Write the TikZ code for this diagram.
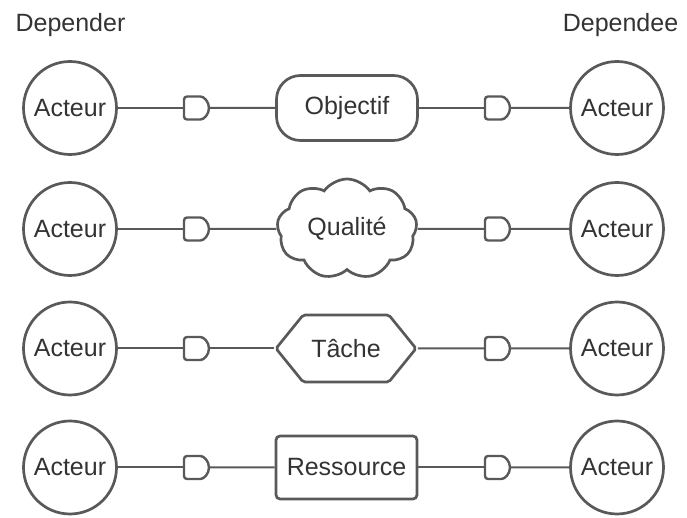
\documentclass[tikz,border=0pt]{standalone}
\usepackage{fontspec}
\setmainfont{Liberation Sans}
\usetikzlibrary{shapes.misc,shapes.symbols}
\definecolor{linegray}{RGB}{89,89,89}
\definecolor{textgray}{RGB}{51,51,51}
\tikzset{
  actor/.style={draw=linegray, circle, line width=2.7pt, minimum size=93pt, inner sep=0pt, text=textgray},
  dep/.style={draw=linegray, rounded rectangle, rounded rectangle west arc=none, rounded corners=3pt, line width=2.4pt, minimum width=25pt, minimum height=23pt, inner sep=0pt},
  link/.style={draw=linegray, line width=2pt},
  elem/.style={draw=linegray, line width=2.7pt, minimum width=141pt, minimum height=65pt, inner sep=0pt, text=textgray}
}
\begin{document}
\begin{tikzpicture}[x=1pt, y=1pt, font=\fontsize{25}{30}\selectfont]
\useasboundingbox (0,0) rectangle (687,518);

\node[text=textgray, anchor=base] (depender) at (70.5,486) {Depender};
\node[text=textgray, anchor=base] (dependee) at (620.5,486) {Dependee};

\node[actor] (actL1) at (70,410) {Acteur};
\node[actor] (actL2) at (70,289) {Acteur};
\node[actor] (actL3) at (70,169.5) {Acteur};
\node[actor] (actL4) at (70,50.5) {Acteur};
\node[actor] (actR1) at (617,410) {Acteur};
\node[actor] (actR2) at (617,289) {Acteur};
\node[actor] (actR3) at (617,169.5) {Acteur};
\node[actor] (actR4) at (617,50.5) {Acteur};

\node[dep] (depL1) at (196.5,410) {};
\node[dep] (depL2) at (196.5,289) {};
\node[dep] (depL3) at (196.5,169.5) {};
\node[dep] (depL4) at (196.5,50.5) {};
\node[dep] (depR1) at (497.5,410) {};
\node[dep] (depR2) at (497.5,289) {};
\node[dep] (depR3) at (497.5,169.5) {};
\node[dep] (depR4) at (497.5,50.5) {};

\node[elem, rounded corners=24pt] (goal) at (347,410) {Objectif};
\node[elem, cloud, cloud puffs=9, cloud puff arc=110, aspect=1.4, minimum width=140pt, minimum height=100pt] (quality) at (347,289) {Qualité};
\node[elem, signal, signal to=east and west, signal pointer angle=102, minimum width=140pt, minimum height=67pt, rounded corners=2pt] (task) at (346,169.5) {Tâche};
\node[elem, rectangle, rounded corners=4pt, minimum height=63pt] (resource) at (346.5,50.5) {Ressource};

\path[link] (actL1) -- (depL1);
\path[link] (depL1) -- (goal);
\path[link] (goal) -- (depR1);
\path[link] (depR1) -- (actR1);

\path[link] (actL2) -- (depL2);
\path[link] (depL2) -- (quality);
\path[link] (quality) -- (depR2);
\path[link] (depR2) -- (actR2);

\path[link] (actL3) -- (depL3);
\path[link] (depL3) -- (task);
\path[link] (task) -- (depR3);
\path[link] (depR3) -- (actR3);

\path[link] (actL4) -- (depL4);
\path[link] (depL4) -- (resource);
\path[link] (resource) -- (depR4);
\path[link] (depR4) -- (actR4);
\end{tikzpicture}
\end{document}
